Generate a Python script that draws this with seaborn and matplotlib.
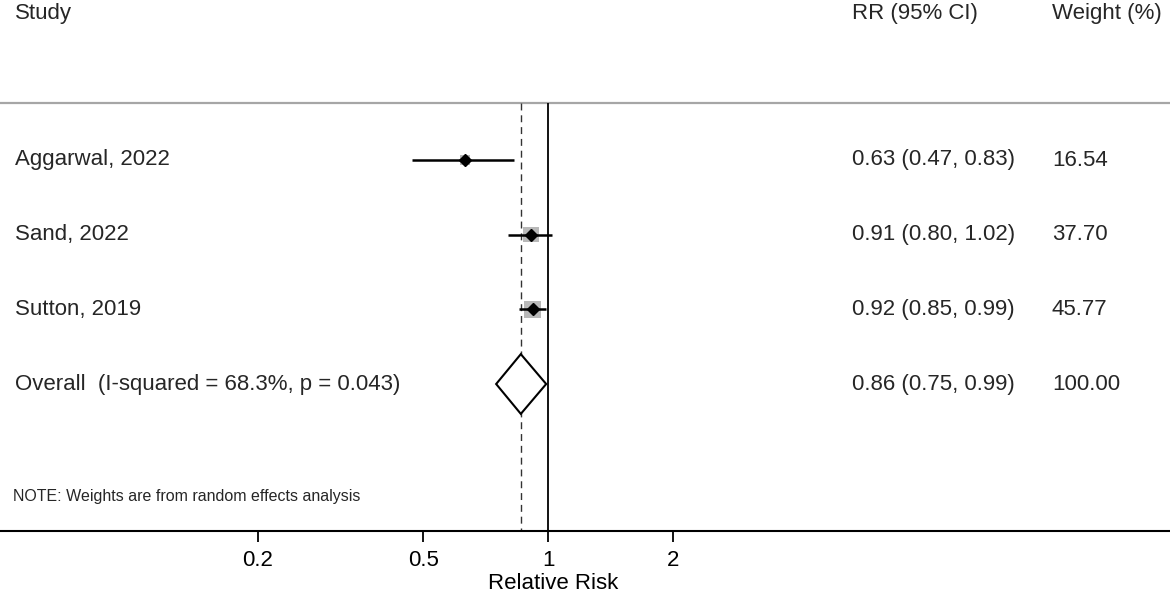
"""Forest plot of relative risk, random effects meta-analysis."""

import matplotlib.pyplot as plt
import seaborn as sns

plt.switch_backend("Agg")

STUDIES = ["Aggarwal, 2022", "Sand, 2022", "Sutton, 2019"]
RR = [0.63, 0.91, 0.92]
CI_LOW = [0.47, 0.80, 0.85]
CI_HIGH = [0.83, 1.02, 0.99]
WEIGHTS = [16.54, 37.70, 45.77]
RR_LABELS = ["0.63 (0.47, 0.83)", "0.91 (0.80, 1.02)", "0.92 (0.85, 0.99)"]
WEIGHT_LABELS = ["16.54", "37.70", "45.77"]

OVERALL_LABEL = "Overall  (I-squared = 68.3%, p = 0.043)"
OVERALL_RR = 0.86
OVERALL_LOW = 0.75
OVERALL_HIGH = 0.99
OVERALL_RR_LABEL = "0.86 (0.75, 0.99)"
OVERALL_WEIGHT_LABEL = "100.00"

TICKS = [0.2, 0.5, 1, 2]
TICK_LABELS = ["0.2", "0.5", "1", "2"]
NOTE = "NOTE: Weights are from random effects analysis"


def main() -> None:
    sns.set_theme(style="white")
    plt.rcParams["font.family"] = ["Liberation Sans", "DejaVu Sans"]

    W, H = 1170, 594
    fig = plt.figure(figsize=(W / 100, H / 100), dpi=100)
    ax = fig.add_axes([0, 63 / H, 1, 531 / H])
    ax.set_xscale("log")
    # 415 px per decade, x=1 at 548 px
    ax.set_xlim(10 ** (-548 / 415), 10 ** ((W - 548) / 415))
    row_px = 74.67
    y_bottom = (531 - 160) / row_px
    y_top = -160 / row_px
    ax.set_ylim(y_bottom, y_top)

    rows = list(range(len(STUDIES)))
    overall_row = len(STUDIES)
    header_row = (13 - 160) / row_px
    line_row = (103 - 160) / row_px
    note_row = (497 - 160) / row_px

    # reference lines
    ax.axhline(line_row, color="#a6a6a6", lw=1.6, zorder=1)
    ax.vlines(1, line_row, y_bottom, color="black", lw=1.3, zorder=2)
    ax.vlines(OVERALL_RR, line_row, y_bottom, color="#333333", lw=1.0,
              linestyles=(0, (5, 3.5)), zorder=2)

    # weight squares
    sns.scatterplot(x=RR, y=rows, size=WEIGHTS, sizes=(0, 150),
                    size_norm=(0, max(WEIGHTS)), marker="s", color="#b8b8b8",
                    linewidth=0, legend=False, ax=ax, zorder=3)
    ax.hlines(rows, CI_LOW, CI_HIGH, color="black", lw=1.8, zorder=4)
    ax.plot(RR, rows, ls="none", marker="D", markersize=6, color="black", zorder=5)

    # overall diamond
    h = 0.4
    ax.fill([OVERALL_LOW, OVERALL_RR, OVERALL_HIGH, OVERALL_RR],
            [overall_row, overall_row - h, overall_row, overall_row + h],
            facecolor="white", edgecolor="black", lw=1.5, zorder=4)

    # text columns
    tr = ax.get_yaxis_transform()
    fs = 16
    cols = [15 / W, 852 / W, 1052 / W]
    headers = ["Study", "RR (95% CI)", "Weight (%)"]
    for x, label in zip(cols, headers):
        ax.text(x, header_row, label, transform=tr, fontsize=fs, va="center")
    for r, name, rl, wl in zip(rows, STUDIES, RR_LABELS, WEIGHT_LABELS):
        for x, label in zip(cols, [name, rl, wl]):
            ax.text(x, r, label, transform=tr, fontsize=fs, va="center")
    for x, label in zip(cols, [OVERALL_LABEL, OVERALL_RR_LABEL, OVERALL_WEIGHT_LABEL]):
        ax.text(x, overall_row, label, transform=tr, fontsize=fs, va="center")
    ax.text(13 / W, note_row, NOTE, transform=tr, fontsize=11.5, va="center")

    # axis styling
    for side in ["top", "left", "right"]:
        ax.spines[side].set_visible(False)
    ax.spines["bottom"].set_color("black")
    ax.spines["bottom"].set_linewidth(1.5)
    ax.set_yticks([])
    ax.set_xticks(TICKS)
    ax.set_xticklabels(TICK_LABELS)
    ax.minorticks_off()
    ax.tick_params(axis="x", bottom=True, length=8, width=1.3, color="black",
                   labelsize=fs, pad=5.5, labelcolor="black")
    ax.set_xlabel("Relative Risk", fontsize=fs, color="black")
    ax.xaxis.set_label_coords(553 / W, -42 / 531)
    ax.set_facecolor("white")

    fig.savefig("out.png", dpi=100, facecolor="white")
    plt.close(fig)


if __name__ == "__main__":
    main()
